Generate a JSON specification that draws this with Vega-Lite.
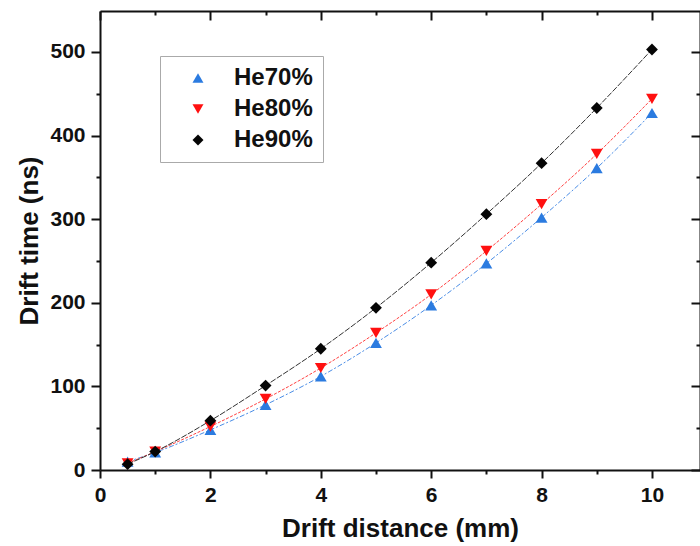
{
  "$schema": "https://vega.github.io/schema/vega-lite/v6.json",
  "autosize": "none",
  "width": 600,
  "height": 459,
  "padding": {"left": 100, "top": 11, "right": 0, "bottom": 76},
  "background": "white",
  "config": {
    "view": {"stroke": null},
    "font": "Liberation Sans",
    "axis": {
      "labelFont": "Liberation Sans",
      "labelFontWeight": "bold",
      "labelFontSize": 21,
      "labelColor": "#111",
      "titleFont": "Liberation Sans",
      "titleFontWeight": "bold",
      "titleFontSize": 26,
      "titleColor": "#111",
      "domainColor": "#111",
      "domainWidth": 2,
      "tickColor": "#111",
      "tickWidth": 2,
      "grid": false
    }
  },
  "data": {
    "values": [
      {"d": 0.5, "t": 10, "s": "He70%"}, {"d": 1, "t": 21, "s": "He70%"}, {"d": 2, "t": 48, "s": "He70%"},
      {"d": 3, "t": 78, "s": "He70%"}, {"d": 4, "t": 112, "s": "He70%"}, {"d": 5, "t": 152, "s": "He70%"},
      {"d": 6, "t": 197, "s": "He70%"}, {"d": 7, "t": 247, "s": "He70%"}, {"d": 8, "t": 302, "s": "He70%"},
      {"d": 9, "t": 361, "s": "He70%"}, {"d": 10, "t": 427, "s": "He70%"},
      {"d": 0.5, "t": 8, "s": "He80%"}, {"d": 1, "t": 22, "s": "He80%"}, {"d": 2, "t": 52, "s": "He80%"},
      {"d": 3, "t": 85, "s": "He80%"}, {"d": 4, "t": 122, "s": "He80%"}, {"d": 5, "t": 164, "s": "He80%"},
      {"d": 6, "t": 210, "s": "He80%"}, {"d": 7, "t": 262, "s": "He80%"}, {"d": 8, "t": 318, "s": "He80%"},
      {"d": 9, "t": 378, "s": "He80%"}, {"d": 10, "t": 444, "s": "He80%"},
      {"d": 0.5, "t": 7, "s": "He90%"}, {"d": 1, "t": 22, "s": "He90%"}, {"d": 2, "t": 59, "s": "He90%"},
      {"d": 3, "t": 101, "s": "He90%"}, {"d": 4, "t": 145, "s": "He90%"}, {"d": 5, "t": 194, "s": "He90%"},
      {"d": 6, "t": 248, "s": "He90%"}, {"d": 7, "t": 306, "s": "He90%"}, {"d": 8, "t": 367, "s": "He90%"},
      {"d": 9, "t": 433, "s": "He90%"}, {"d": 10, "t": 503, "s": "He90%"}
    ]
  },
  "layer": [
    {
      "transform": [{"filter": "datum.s == 'He70%'"}],
      "mark": {"type": "line", "strokeWidth": 1, "interpolate": "monotone", "color": "#4a8de6", "strokeDash": [5, 2, 2, 2]},
      "encoding": {
        "x": {"field": "d", "type": "quantitative",
          "scale": {"domain": [0, 10.87], "nice": false, "zero": false},
          "axis": {"orient": "bottom", "title": "Drift distance (mm)",
            "values": [0, 1, 2, 3, 4, 5, 6, 7, 8, 9, 10],
            "labelExpr": "datum.value % 2 == 0 ? datum.label : ''",
            "tickSize": {"condition": {"test": "datum.value % 2 == 0", "value": 8}, "value": 4},
            "labelPadding": 6, "titlePadding": 10, "labelFlush": false}},
        "y": {"field": "t", "type": "quantitative",
          "scale": {"domain": [0, 549], "nice": false},
          "axis": {"orient": "left", "title": "Drift time (ns)",
            "values": [0, 50, 100, 150, 200, 250, 300, 350, 400, 450, 500],
            "labelExpr": "datum.value % 100 == 0 ? datum.label : ''",
            "tickSize": {"condition": {"test": "datum.value % 100 == 0", "value": 9}, "value": 4},
            "labelPadding": 6, "titlePadding": 7, "labelFlush": false}}
      }
    },
    {
      "transform": [{"filter": "datum.s == 'He80%'"}],
      "mark": {"type": "line", "strokeWidth": 1, "interpolate": "monotone", "color": "#ff4040", "strokeDash": [3, 1.5]},
      "encoding": {
        "x": {"field": "d", "type": "quantitative", "axis": null},
        "y": {"field": "t", "type": "quantitative", "axis": null}
      }
    },
    {
      "transform": [{"filter": "datum.s == 'He90%'"}],
      "mark": {"type": "line", "strokeWidth": 1, "interpolate": "monotone", "color": "#333333", "strokeDash": [6, 1.5]},
      "encoding": {
        "x": {"field": "d", "type": "quantitative", "axis": null},
        "y": {"field": "t", "type": "quantitative", "axis": null}
      }
    },
    {
      "mark": {"type": "point", "filled": true, "size": 140, "opacity": 1},
      "encoding": {
        "x": {"field": "d", "type": "quantitative",
          "axis": {"orient": "top", "title": null, "labels": false,
            "values": [0, 1, 2, 3, 4, 5, 6, 7, 8, 9, 10],
            "tickSize": {"condition": {"test": "datum.value % 2 == 0", "value": -9}, "value": -4}}},
        "y": {"field": "t", "type": "quantitative",
          "axis": {"orient": "right", "title": null, "labels": false,
            "values": [0, 50, 100, 150, 200, 250, 300, 350, 400, 450, 500],
            "tickSize": {"condition": {"test": "datum.value % 100 == 0", "value": -9}, "value": -4}}},
        "color": {"field": "s", "type": "nominal",
          "scale": {"domain": ["He70%", "He80%", "He90%"], "range": ["#2b7be0", "#ff1010", "#050505"]},
          "legend": {"title": null, "orient": "none", "legendX": 60, "legendY": 45,
            "labelFont": "Liberation Sans", "labelFontWeight": "bold", "labelFontSize": 24,
            "labelColor": "#111", "symbolSize": 120,
            "strokeColor": "#aaa", "fillColor": "white", "padding": 10,
            "rowPadding": 7, "labelOffset": 24, "symbolOffset": 16}},
        "shape": {"field": "s", "type": "nominal",
          "scale": {"domain": ["He70%", "He80%", "He90%"], "range": ["triangle-up", "triangle-down", "diamond"]}}
      }
    }
  ],
  "resolve": {"axis": {"x": "independent", "y": "independent"}}
}
